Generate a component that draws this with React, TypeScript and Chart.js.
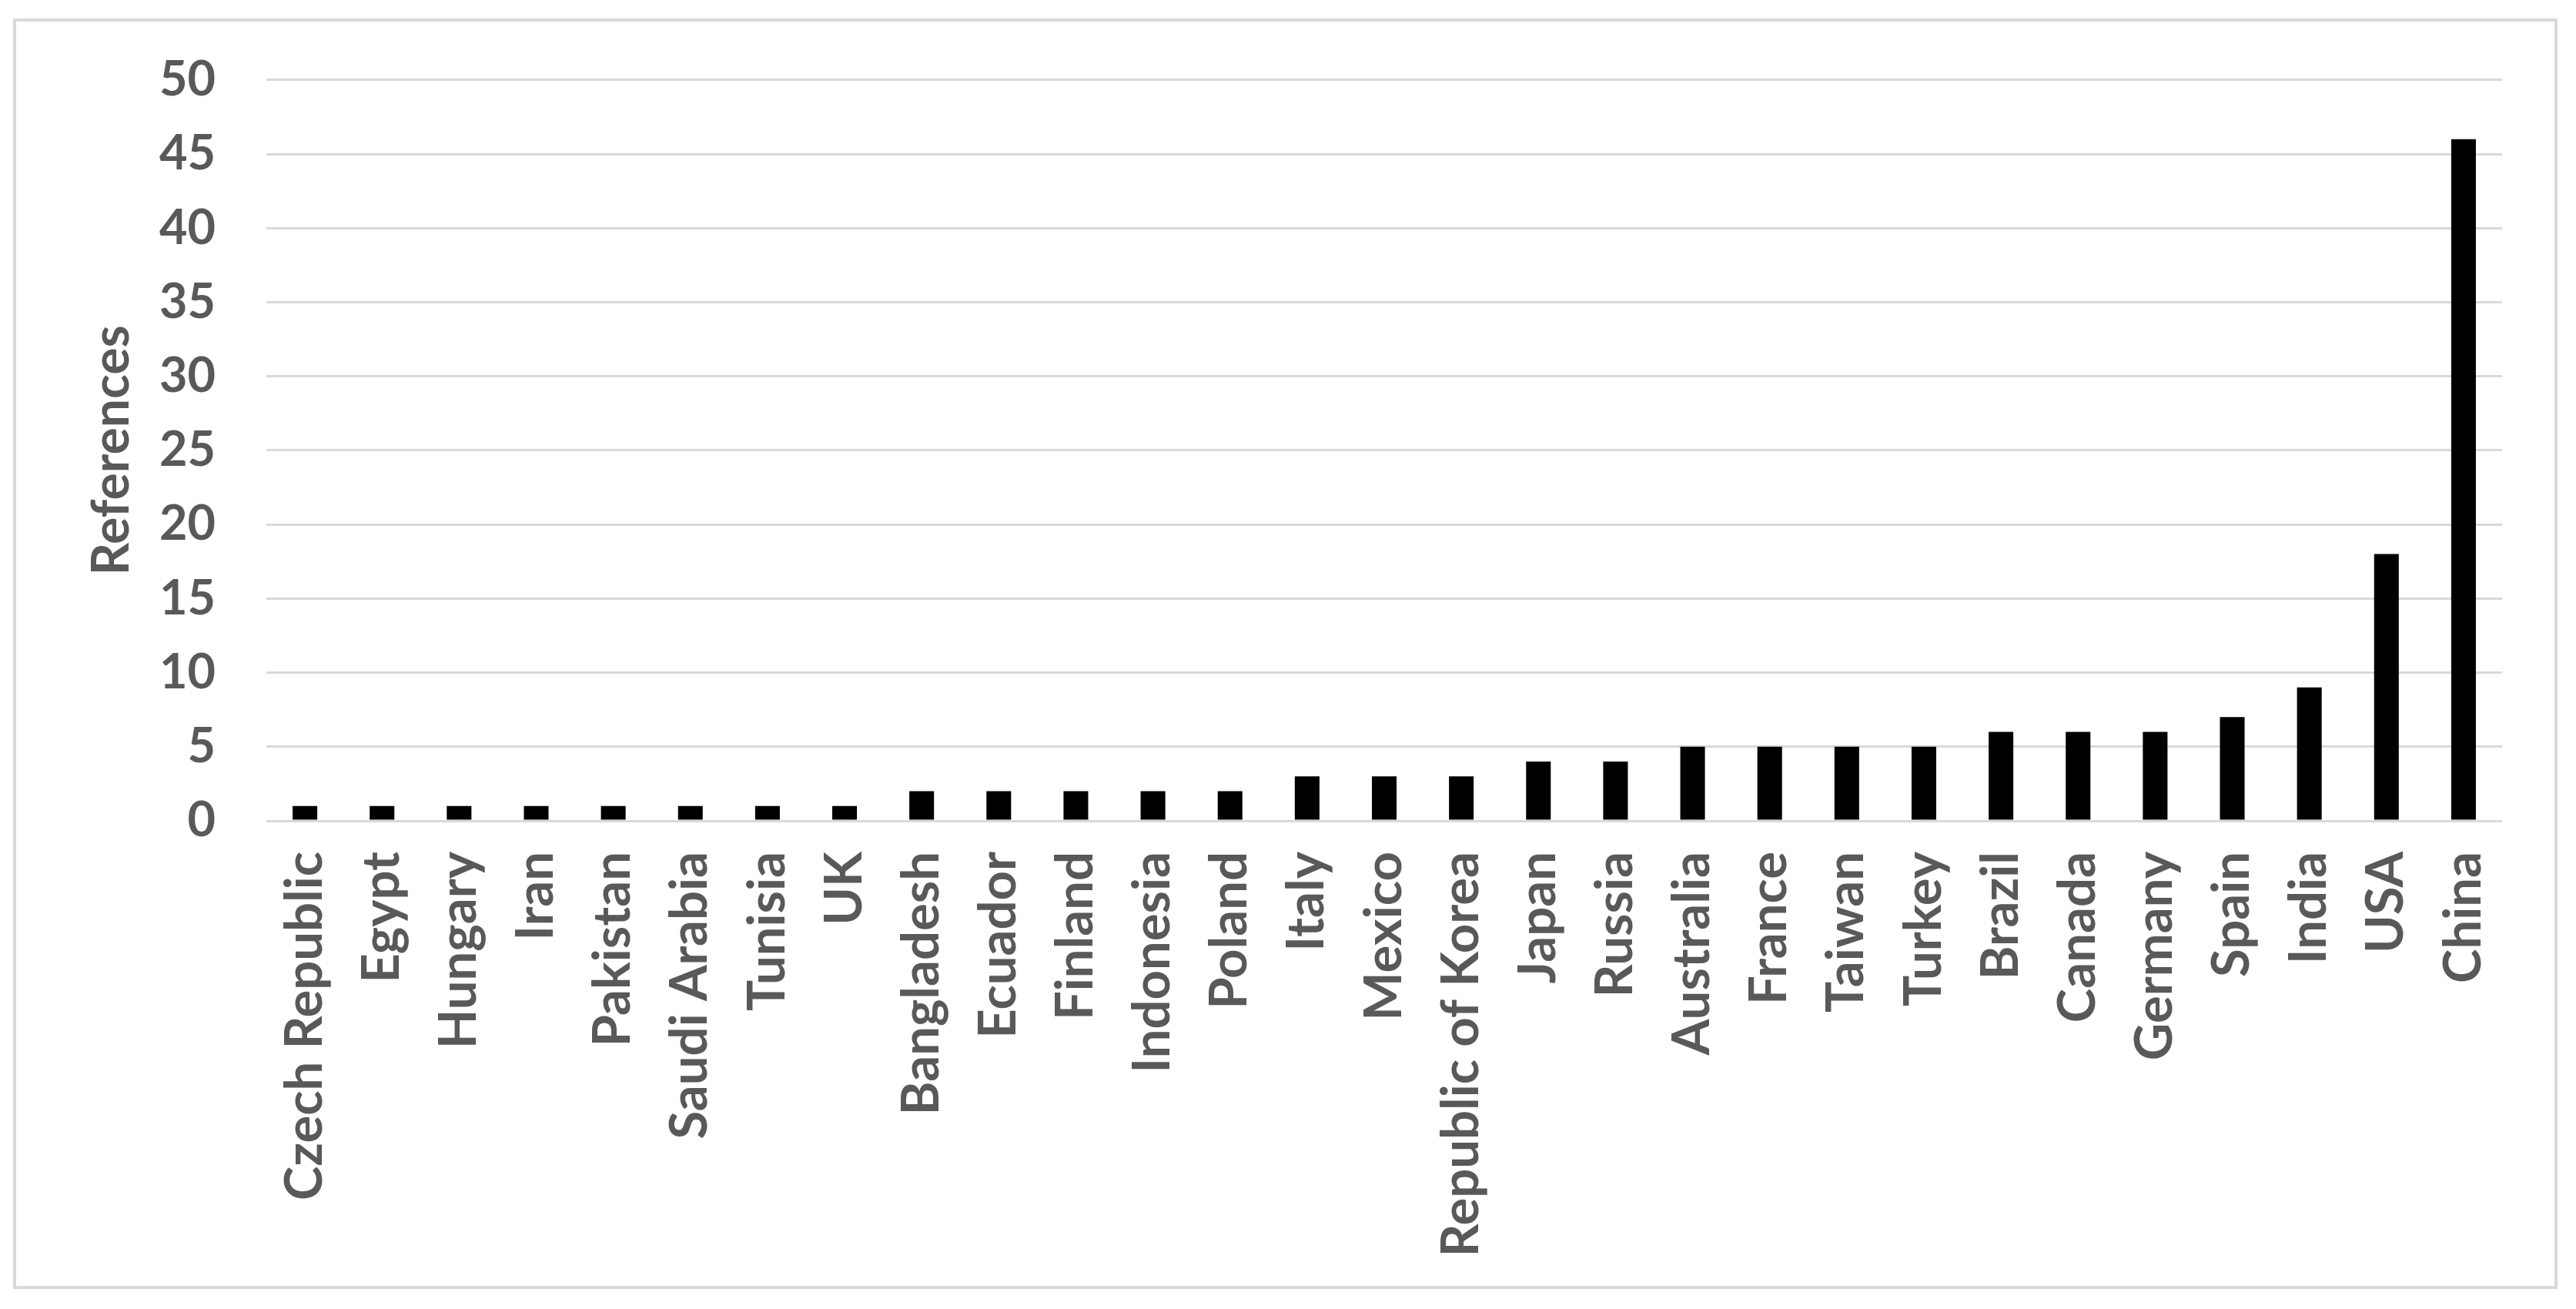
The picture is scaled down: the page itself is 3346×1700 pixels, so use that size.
import React, { useEffect, useRef } from "react";
import { Chart, registerables } from "chart.js";

Chart.register(...registerables);

const categories = [
  "Czech Republic", "Egypt", "Hungary", "Iran", "Pakistan", "Saudi Arabia", "Tunisia", "UK",
  "Bangladesh", "Ecuador", "Finland", "Indonesia", "Poland", "Italy", "Mexico",
  "Republic of Korea", "Japan", "Russia", "Australia", "France", "Taiwan", "Turkey",
  "Brazil", "Canada", "Germany", "Spain", "India", "USA", "China",
];
const references = [
  1, 1, 1, 1, 1, 1, 1, 1,
  2, 2, 2, 2, 2, 3, 3,
  3, 4, 4, 5, 5, 5, 5,
  6, 6, 6, 7, 9, 18, 46,
];
const yMin = 0;
const yMax = 50;
const yStep = 5;
const yTitle = "References";

const W = 3346;
const H = 1700;
const TEXT = "#595959";
const GRID = "#d9d9d9";
const FONT = "Lato, 'Open Sans', sans-serif";

const frame = {
  id: "frame",
  beforeDraw(chart: any) {
    const ctx = chart.ctx;
    ctx.save();
    ctx.fillStyle = "#ffffff";
    ctx.fillRect(0, 0, chart.width, chart.height);
    ctx.strokeStyle = GRID;
    ctx.lineWidth = 4;
    ctx.strokeRect(19, 26, 3301, 1646);
    ctx.restore();
  },
};

export default function App() {
  const ref = useRef<HTMLCanvasElement | null>(null);
  useEffect(() => {
    if (!ref.current) return;
    const chart = new Chart(ref.current, {
      type: "bar",
      data: {
        labels: categories,
        datasets: [
          {
            data: references,
            backgroundColor: "#000000",
            borderWidth: 0,
            barPercentage: 0.32,
            categoryPercentage: 1,
          },
        ],
      },
      options: {
        animation: false,
        responsive: false,
        maintainAspectRatio: false,
        devicePixelRatio: 1,
        layout: { padding: { left: 0, top: 101, right: 96, bottom: 0 } },
        plugins: { legend: { display: false }, tooltip: { enabled: false }, title: { display: false } },
        scales: {
          x: {
            grid: { display: false, drawTicks: false },
            border: { display: false },
            ticks: {
              color: TEXT,
              font: { family: FONT, size: 67, weight: "bold" },
              maxRotation: 90,
              minRotation: 90,
              padding: 40,
              autoSkip: false,
            },
            afterFit(scale: any) {
              scale.height = H - 1066;
            },
          },
          y: {
            min: yMin,
            max: yMax,
            grid: { color: GRID, lineWidth: 3, drawTicks: false },
            border: { display: false },
            ticks: {
              stepSize: yStep,
              color: TEXT,
              font: { family: FONT, size: 63, weight: "bold" },
              padding: 66,
            },
            title: {
              display: true,
              text: yTitle,
              color: TEXT,
              font: { family: FONT, size: 66, weight: "bold" },
              padding: { top: 106, bottom: 0 },
            },
            afterFit(scale: any) {
              scale.width = 346;
            },
          },
        },
      },
      plugins: [frame],
    });
    return () => chart.destroy();
  }, []);
  return (
    <div style={{ position: "absolute", left: 0, top: 0, width: W, height: H, background: "#fff" }}>
      <canvas ref={ref} width={W} height={H} style={{ width: W, height: H, display: "block" }} />
    </div>
  );
}
